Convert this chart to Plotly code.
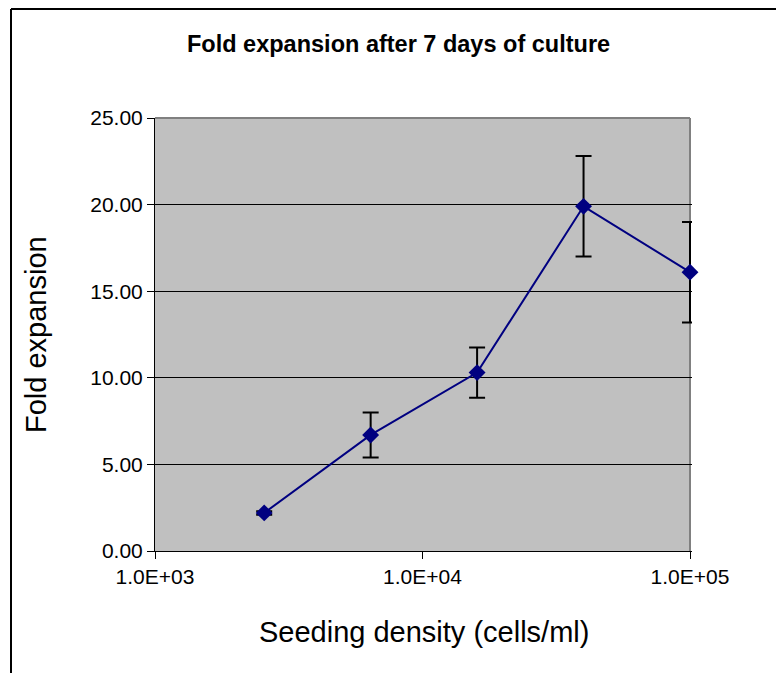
import plotly.graph_objects as go

density = [2560, 6400, 16000, 40000, 100000]
fold = [2.2, 6.7, 10.3, 19.9, 16.1]
err = [0.1, 1.3, 1.45, 2.9, 2.9]
xtick_vals = [1e3, 1e4, 1e5]
xtick_text = ["1.0E+03", "1.0E+04", "1.0E+05"]
ytick_vals = [0, 5, 10, 15, 20, 25]
ytick_text = ["0.00", "5.00", "10.00", "15.00", "20.00", "25.00"]

W, H = 776, 673
L, R, T, B = 155, 84, 118, 122
pw, ph = W - L - R, H - T - B
xmax_log = 5 + 2.0 / 267.5  # two extra pixels so the last error bar is not clipped

def px(x):
    return (x - L) / pw

def py(y):
    return (H - B - y) / ph

fig = go.Figure()
fig.add_trace(go.Scatter(
    x=density, y=fold, mode="lines+markers",
    line=dict(color="#000080", width=2),
    marker=dict(symbol="diamond", size=13, color="#000080"),
    error_y=dict(type="data", array=err, color="black", thickness=2, width=8),
    showlegend=False, cliponaxis=False,
))

font = "Liberation Sans, Arial, sans-serif"
fig.update_layout(
    width=W, height=H,
    margin=dict(l=L, r=R, t=T, b=B),
    paper_bgcolor="white", plot_bgcolor="#C0C0C0",
    font=dict(family=font, color="black"),
    xaxis=dict(type="log", range=[3, xmax_log], tickvals=xtick_vals, ticktext=xtick_text,
               showgrid=False, zeroline=False, showline=True, linecolor="black", linewidth=1,
               ticks="outside", ticklen=7, tickcolor="black", tickfont=dict(size=21),
               mirror=False),
    yaxis=dict(range=[0, 25], tickvals=ytick_vals, ticktext=ytick_text,
               showgrid=True, gridcolor="black", gridwidth=1, zeroline=False,
               showline=True, linecolor="black", linewidth=1,
               ticks="outside", ticklen=7, tickcolor="black", tickfont=dict(size=21)),
    shapes=[
        dict(type="line", xref="paper", yref="paper", x0=0, x1=px(690), y0=1, y1=1, layer="below",
             line=dict(color="#808080", width=2)),
        dict(type="line", xref="x", yref="paper", x0=1e5, x1=1e5, y0=0, y1=1, layer="below",
             line=dict(color="#808080", width=2)),
        dict(type="rect", xref="paper", yref="paper", x0=px(691), x1=1.0, y0=0, y1=1, layer="below",
             line=dict(width=0), fillcolor="white"),
        dict(type="line", xref="paper", yref="paper", x0=px(11), x1=px(W + 5), y0=py(9), y1=py(9),
             line=dict(color="black", width=2)),
        dict(type="line", xref="paper", yref="paper", x0=px(11), x1=px(11), y0=py(9), y1=py(H + 5),
             line=dict(color="black", width=2)),
    ],
    annotations=[
        dict(text="<b>Fold expansion after 7 days of culture</b>", xref="paper", yref="paper",
             x=px(398), y=py(44), showarrow=False, font=dict(size=23.5, family=font),
             xanchor="center", yanchor="middle"),
        dict(text="Fold expansion", xref="paper", yref="paper", x=px(36), y=py(335),
             showarrow=False, textangle=-90, font=dict(size=29, family=font),
             xanchor="center", yanchor="middle"),
        dict(text="Seeding density (cells/ml)", xref="paper", yref="paper", x=px(424), y=py(632),
             showarrow=False, font=dict(size=29, family=font),
             xanchor="center", yanchor="middle"),
    ],
)

fig.write_html("out.html")
